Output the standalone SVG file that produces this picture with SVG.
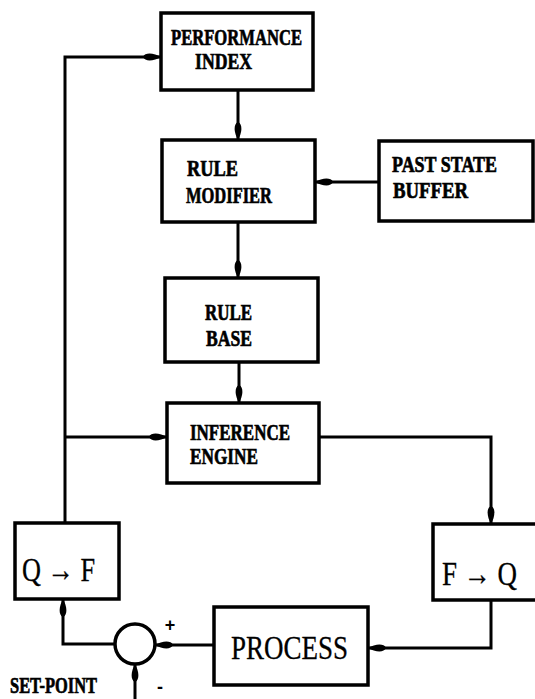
<svg xmlns="http://www.w3.org/2000/svg" width="535" height="699" viewBox="0 0 535 699">
<defs>
<style>
.box{fill:#fff;stroke:#000;stroke-width:3.5}
.con{fill:none;stroke:#000;stroke-width:3;marker-end:url(#ah)}
.lbl{font-family:"Liberation Serif","Times New Roman",serif;font-weight:bold;font-size:24px;fill:#000;stroke:#000;stroke-width:0.7}
.big{font-family:"Liberation Serif","Times New Roman",serif;font-size:34px;fill:#000;stroke:#000;stroke-width:0.3}
.sign{font-family:"Liberation Sans",Arial,sans-serif;font-weight:bold;font-size:18px;fill:#000;text-anchor:middle}
</style>
<marker id="ah" markerUnits="userSpaceOnUse" markerWidth="19" markerHeight="10" viewBox="-18 -5 19 10" refX="0" refY="0" orient="auto">
<path d="M-18,0 C-16,-5 -7,-4 0,0 C-7,4 -16,5 -18,0 Z" fill="#000"/>
</marker>
</defs>
<rect width="535" height="699" fill="#fff"/>
<g id="connectors">
<path class="con" d="M65,523 V57 H161"/>
<path class="con" d="M65,437 H167"/>
<path class="con" d="M238,90 V140"/>
<path class="con" d="M379,182 H315"/>
<path class="con" d="M238,222 V278"/>
<path class="con" d="M239,362 V403"/>
<path class="con" d="M319,437 H491 V524"/>
<path class="con" d="M491,600 V648 H368"/>
<path class="con" d="M214,645 H155"/>
<path class="con" d="M115,644 H63 V599"/>
<path class="con" d="M135,699 V664"/>
</g>
<g id="performance-index">
<rect class="box" x="161" y="13" width="152" height="77"/>
<text class="lbl" x="171" y="45" textLength="131" lengthAdjust="spacingAndGlyphs">PERFORMANCE</text>
<text class="lbl" x="195" y="69" textLength="57" lengthAdjust="spacingAndGlyphs">INDEX</text>
</g>
<g id="rule-modifier">
<rect class="box" x="162" y="140" width="153" height="82"/>
<text class="lbl" x="187" y="176" textLength="51" lengthAdjust="spacingAndGlyphs">RULE</text>
<text class="lbl" x="186" y="203" textLength="86" lengthAdjust="spacingAndGlyphs">MODIFIER</text>
</g>
<g id="past-state-buffer">
<rect class="box" x="379" y="141" width="154" height="80"/>
<text class="lbl" x="392" y="172" textLength="105" lengthAdjust="spacingAndGlyphs">PAST STATE</text>
<text class="lbl" x="393" y="198" textLength="75" lengthAdjust="spacingAndGlyphs">BUFFER</text>
</g>
<g id="rule-base">
<rect class="box" x="165" y="278" width="153" height="84"/>
<text class="lbl" x="205" y="320" textLength="47" lengthAdjust="spacingAndGlyphs">RULE</text>
<text class="lbl" x="206" y="346" textLength="46" lengthAdjust="spacingAndGlyphs">BASE</text>
</g>
<g id="inference-engine">
<rect class="box" x="167" y="403" width="152" height="80"/>
<text class="lbl" x="190" y="440" textLength="100" lengthAdjust="spacingAndGlyphs">INFERENCE</text>
<text class="lbl" x="190" y="464" textLength="68" lengthAdjust="spacingAndGlyphs">ENGINE</text>
</g>
<g id="q-to-f">
<rect class="box" x="15" y="523" width="104" height="76"/>
<text class="big" x="22" y="581" textLength="73" lengthAdjust="spacingAndGlyphs">Q → F</text>
</g>
<g id="f-to-q">
<rect class="box" x="433" y="524" width="110" height="76"/>
<text class="big" x="442" y="585" textLength="75" lengthAdjust="spacingAndGlyphs">F → Q</text>
</g>
<g id="process">
<rect class="box" x="214" y="607" width="154" height="78"/>
<text class="big" x="231" y="659" font-size="36" textLength="117" lengthAdjust="spacingAndGlyphs">PROCESS</text>
</g>
<g id="summing-junction">
<circle cx="135" cy="644" r="20" fill="#fff" stroke="#000" stroke-width="3.5"/>
<text class="sign" x="170" y="631">+</text>
<text class="sign" x="160" y="693" font-size="16">-</text>
</g>
<g id="set-point">
<text class="lbl" x="10" y="693" font-size="19" textLength="87" lengthAdjust="spacingAndGlyphs">SET-POINT</text>
</g>
</svg>
